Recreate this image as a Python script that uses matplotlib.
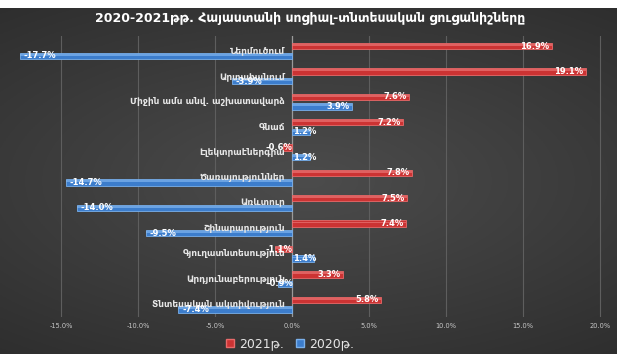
import matplotlib
matplotlib.use("Agg")
import matplotlib.pyplot as plt
import numpy as np
from matplotlib.patches import Patch

categories = ["Ներմուծում", "Արտահանում", "Միջին ամս անվ. աշխատավարձ", "Գնաճ",
              "Էլեկտրաէներգիա", "Ծառայություններ", "Առևտուր", "Շինարարություն",
              "Գյուղատնտեսություն", "Արդյունաբերություն", "Տնտեսական ակտիվություն"]
values_2021 = [16.9, 19.1, 7.6, 7.2, -0.6, 7.8, 7.5, 7.4, -1.1, 3.3, 5.8]
values_2020 = [-17.7, -3.9, 3.9, 1.2, 1.2, -14.7, -14.0, -9.5, 1.4, -0.9, -7.4]
xticks = [-15, -10, -5, 0, 5, 10, 15, 20]
title = "2020-2021թթ. Հայաստանի սոցիալ-տնտեսական ցուցանիշները"
legend_labels = ["2021թ.", "2020թ."]

plt.rcParams['font.family'] = ['DejaVu Sans']

W, H, DPI = 620, 357, 100
fig = plt.figure(figsize=(W / DPI, H / DPI), dpi=DPI, facecolor="white")

def px(x0, y0, x1, y1):
    return [x0 / W, 1 - y1 / H, (x1 - x0) / W, (y1 - y0) / H]

# background panel with radial gradient
bg = fig.add_axes(px(0, 8, 617, 354))
yy, xx = np.mgrid[-1:1:200j, -1:1:300j]
r = np.sqrt((xx * 0.8) ** 2 + (yy * 1.0) ** 2)
r = np.clip(r / 1.3, 0, 1)
c0 = np.array([0x4c, 0x4c, 0x4c]) / 255
c1 = np.array([0x2e, 0x2e, 0x2e]) / 255
img = c0[None, None, :] * (1 - r[..., None]) + c1[None, None, :] * r[..., None]
bg.imshow(img, aspect="auto", extent=[0, 1, 0, 1])
bg.set_axis_off()

# main axes: 0 at x=292, 15.38 px per unit
ppu = 15.38
xmin, xmax = -18.5, 20.5
ax = fig.add_axes(px(292 + xmin * ppu, 35.8, 292 + xmax * ppu, 317.2))
ax.set_facecolor("none")
ax.set_xlim(xmin, xmax)
n = len(categories)
ax.set_ylim(n - 0.5, -0.6)

y = np.arange(n)
off = 0.19
h = 0.25
red = "#cc3333"
blue = "#3c7dcc"
ax.barh(y - off, values_2021, height=h, color=red, edgecolor="#e86a6a", linewidth=0.6, zorder=3)
ax.barh(y + off, values_2020, height=h, color=blue, edgecolor="#7ab0ea", linewidth=0.6, zorder=3)
# gloss highlight
ax.barh(y - off - h * 0.18, values_2021, height=h * 0.3, color="#e97676", linewidth=0, zorder=4, alpha=0.7)
ax.barh(y + off - h * 0.18, values_2020, height=h * 0.3, color="#80b4ee", linewidth=0, zorder=4, alpha=0.7)

for xv in xticks:
    if xv != 0:
        ax.axvline(xv, color="#5e5e5e", linewidth=0.8, zorder=1)
ax.axvline(0, color="#9a9a9a", linewidth=0.9, zorder=2)

def label(v, yc):
    txt = f"{v:.1f}%"
    kw = dict(va="center", color="white", fontsize=6, fontweight="bold", zorder=6)
    if abs(v) >= 2.5:
        if v > 0:
            ax.text(v - 0.15, yc, txt, ha="right", **kw)
        else:
            ax.text(v + 0.25, yc, txt, ha="left", **kw)
    else:
        if v > 0:
            ax.text(0.05, yc, txt, ha="left", **kw)
        else:
            ax.text(0.05, yc, txt, ha="right", **kw)

for i in range(n):
    label(values_2021[i], y[i] - off)
    label(values_2020[i], y[i] + off)
    ax.text(-0.45, y[i] + 0.0, categories[i], ha="right", va="center", color="#e6e6e6",
            fontsize=6.5, fontweight="bold", zorder=5)

ax.set_yticks([])
ax.set_xticks(xticks)
ax.set_xticklabels([f"{t:.1f}%" for t in xticks], color="#c8c8c8", fontsize=4.8)
ax.tick_params(axis="x", length=0, pad=4)
for s in ax.spines.values():
    s.set_visible(False)

fig.text(310 / W, 1 - 18 / H, title, ha="center", va="center", color="white",
         fontsize=9, fontweight="bold")

handles = [Patch(facecolor=red, edgecolor="#e86a6a"), Patch(facecolor=blue, edgecolor="#7ab0ea")]
leg = fig.legend(handles, legend_labels, loc="center", bbox_to_anchor=(290 / W, 1 - 344 / H),
                 ncol=2, frameon=False, fontsize=9, labelcolor="#e6e6e6",
                 handlelength=0.6, handleheight=0.6, handletextpad=0.4, columnspacing=1.0)

fig.savefig("out.png", dpi=DPI, facecolor="white")
